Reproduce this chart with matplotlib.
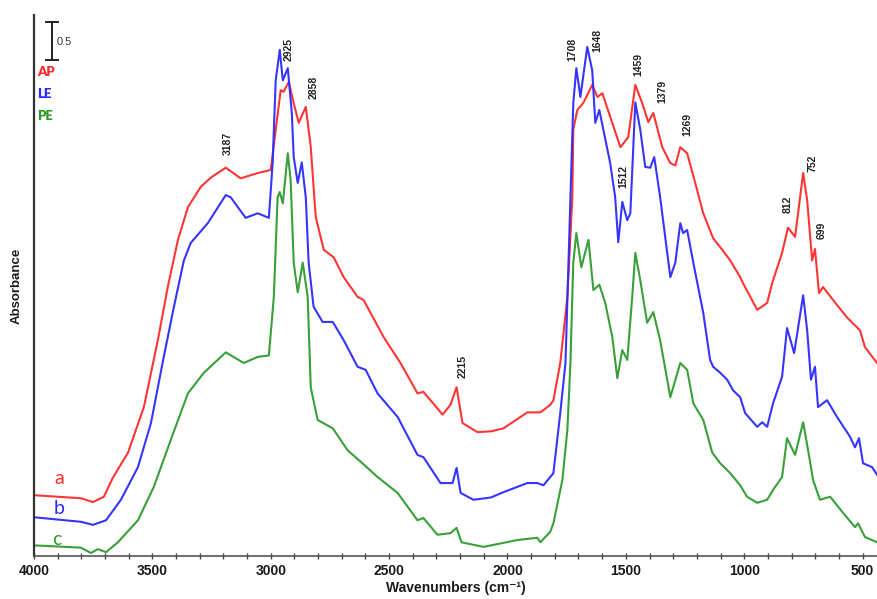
import matplotlib
matplotlib.use("Agg")
import matplotlib.pyplot as plt
from matplotlib.ticker import MultipleLocator

plt.rcParams['font.family'] = ['Liberation Sans', 'DejaVu Sans']

# ---- data (wavenumber cm-1, absorbance offset units) ----
ap_wn = [4000, 3802, 3751, 3705, 3667, 3603, 3536, 3477, 3435, 3392, 3350, 3295, 3253, 3190, 3127, 3055, 3000,
         2979, 2958, 2945, 2924, 2903, 2882, 2852, 2831, 2810, 2776, 2734, 2692, 2633, 2608, 2523, 2452,
         2380, 2355, 2274, 2241, 2215, 2190, 2127, 2070, 2017, 1916, 1861, 1819, 1806, 1777, 1747, 1726, 1722,
         1705, 1680, 1642, 1620, 1599, 1566, 1523, 1490, 1460, 1431, 1405, 1384, 1346, 1312, 1291, 1270,
         1241, 1207, 1173, 1131, 1093, 1059, 1017, 1005, 945, 903, 882, 840, 815, 785, 751, 734, 713, 701,
         684, 667, 625, 566, 511, 490, 439]
ap_abs = [0.80, 0.76, 0.71, 0.78, 1.03, 1.36, 1.96, 2.84, 3.54, 4.16, 4.59, 4.86, 4.98, 5.11, 4.97, 5.04, 5.08,
          5.61, 6.13, 6.11, 6.24, 5.96, 5.70, 5.91, 5.38, 4.46, 4.03, 3.93, 3.67, 3.41, 3.37, 2.88, 2.54,
          2.14, 2.16, 1.86, 1.99, 2.22, 1.75, 1.63, 1.64, 1.68, 1.89, 1.89, 1.99, 2.05, 2.54, 3.41, 4.72, 5.61,
          5.87, 5.96, 6.20, 6.04, 6.09, 5.78, 5.38, 5.51, 6.20, 5.96, 5.71, 5.83, 5.38, 5.17, 5.14, 5.38,
          5.30, 4.91, 4.51, 4.18, 4.03, 3.89, 3.67, 3.59, 3.24, 3.33, 3.59, 3.99, 4.32, 4.20, 5.04, 4.68,
          3.89, 4.04, 3.46, 3.54, 3.37, 3.14, 2.97, 2.75, 2.54]

le_wn = [4000, 3802, 3751, 3696, 3633, 3561, 3506, 3452, 3409, 3367, 3338, 3266, 3190, 3169, 3106, 3055,
         3008, 2992, 2979, 2962, 2949, 2928, 2911, 2903, 2886, 2869, 2852, 2840, 2819, 2781, 2738, 2692,
         2633, 2599, 2549, 2464, 2380, 2355, 2283, 2232, 2215, 2198, 2144, 2070, 2017, 1916, 1874, 1848, 1806,
         1777, 1755, 1734, 1722, 1709, 1692, 1663, 1642, 1629, 1612, 1595, 1566, 1545, 1532, 1515, 1494,
         1481, 1460, 1439, 1418, 1397, 1380, 1355, 1312, 1291, 1270, 1258, 1241, 1215, 1173, 1144, 1131,
         1101, 1072, 1047, 1017, 996, 945, 924, 903, 878, 840, 819, 789, 751, 734, 718, 701, 688, 650,
         608, 553, 532, 515, 498, 460, 439]
le_abs = [0.51, 0.45, 0.41, 0.47, 0.74, 1.17, 1.75, 2.62, 3.28, 3.89, 4.12, 4.38, 4.75, 4.72, 4.45, 4.51,
          4.45, 5.17, 6.26, 6.66, 6.26, 6.42, 5.83, 5.25, 4.91, 5.18, 4.72, 3.86, 3.28, 3.08, 3.08, 2.84,
          2.49, 2.45, 2.14, 1.83, 1.33, 1.30, 0.96, 0.96, 1.16, 0.83, 0.74, 0.77, 0.84, 0.96, 0.96, 0.93, 1.09,
          1.88, 2.54, 4.72, 5.96, 6.42, 6.04, 6.70, 6.39, 5.70, 5.87, 5.61, 5.17, 4.72, 4.13, 4.66, 4.42,
          4.51, 5.97, 5.61, 5.12, 5.11, 5.25, 4.72, 3.67, 3.86, 4.38, 4.25, 4.29, 3.86, 3.20, 2.58, 2.49,
          2.41, 2.32, 2.18, 2.09, 1.88, 1.70, 1.76, 1.70, 2.01, 2.36, 3.00, 2.67, 3.43, 2.97, 2.32, 2.49,
          1.96, 2.05, 1.83, 1.57, 1.43, 1.55, 1.22, 1.17, 1.07]

pe_wn = [4000, 3802, 3760, 3730, 3696, 3646, 3561, 3494, 3422, 3350, 3283, 3190, 3114, 3055, 3008, 2987,
         2971, 2962, 2949, 2928, 2916, 2903, 2886, 2865, 2844, 2831, 2802, 2738, 2675, 2620, 2549, 2464,
         2380, 2355, 2296, 2241, 2215, 2194, 2101, 1958, 1874, 1861, 1819, 1806, 1768, 1747, 1734, 1722,
         1709, 1688, 1658, 1637, 1612, 1587, 1557, 1536, 1515, 1494, 1473, 1460, 1439, 1410, 1384, 1355,
         1312, 1270, 1241, 1215, 1173, 1135, 1101, 1059, 1017, 988, 945, 903, 878, 840, 819, 785, 751,
         730, 709, 680, 637, 583, 532, 519, 490, 439]
pe_abs = [0.14, 0.11, 0.04, 0.09, 0.05, 0.18, 0.47, 0.91, 1.53, 2.14, 2.41, 2.68, 2.54, 2.62, 2.64, 3.41,
          4.72, 4.79, 4.64, 5.30, 4.95, 3.86, 3.47, 3.86, 3.41, 2.22, 1.79, 1.68, 1.39, 1.24, 1.04, 0.83,
          0.47, 0.50, 0.28, 0.30, 0.37, 0.18, 0.12, 0.21, 0.24, 0.18, 0.32, 0.43, 1.00, 1.66, 2.54, 3.86,
          4.25, 3.80, 4.16, 3.50, 3.57, 3.33, 2.88, 2.34, 2.71, 2.58, 3.41, 3.99, 3.63, 3.07, 3.21, 2.84,
          2.09, 2.54, 2.45, 2.01, 1.79, 1.36, 1.22, 1.09, 0.93, 0.78, 0.70, 0.74, 0.87, 1.04, 1.55, 1.33,
          1.76, 1.39, 1.00, 0.74, 0.78, 0.57, 0.38, 0.43, 0.25, 0.18]

peak_labels = ["3187", "2925", "2858", "2215", "1708", "1648", "1459", "1379", "1269", "1512", "812", "752", "699"]
peak_label_x = [3181, 2924, 2819, 2190, 1726, 1620, 1448, 1346, 1241, 1511, 815, 713, 671]
peak_label_y = [5.43, 6.67, 6.17, 2.50, 6.67, 6.78, 6.47, 6.11, 5.68, 4.99, 4.63, 5.17, 4.28]

series_names = ["AP", "LE", "PE"]
curve_letters = ["a", "b", "c"]
colors = ["#FF2A2A", "#2A2AFF", "#2E9A2E"]

# ---- figure ----
fig = plt.figure(figsize=(8.77, 5.99), dpi=100)
ax = fig.add_axes([0.0388, 0.0718, 0.9612, 0.9032])

for wn, ab, c in zip([ap_wn, le_wn, pe_wn], [ap_abs, le_abs, pe_abs], colors):
    ax.plot(wn, ab, color=c, lw=1.5, solid_joinstyle='round', alpha=0.95)

ax.set_xlim(4000, 439)
ax.set_ylim(0, 7.12)
ax.xaxis.set_major_locator(MultipleLocator(500))
ax.xaxis.set_minor_locator(MultipleLocator(100))
ax.tick_params(axis='x', which='both', direction='inout', length=4, width=1, colors='#444444',
               labelcolor='#1a1a1a', labelsize=10, pad=4)
for lab in ax.get_xticklabels():
    lab.set_fontweight('bold')
ax.set_yticks([])
ax.spines['top'].set_visible(False)
ax.spines['right'].set_visible(False)
ax.spines['left'].set_linewidth(1.6)
ax.spines['left'].set_color('#333333')
ax.spines['bottom'].set_linewidth(1.2)
ax.spines['bottom'].set_color('#555555')

ax.set_xlabel("Wavenumbers (cm\u207b\u00b9)", fontsize=10, fontweight='bold', color='#1a1a1a', labelpad=2)
ax.set_ylabel("Absorbance", fontsize=9.5, fontweight='bold', color='#1a1a1a', labelpad=8)

# peak labels
for t, x, y in zip(peak_labels, peak_label_x, peak_label_y):
    ax.text(x, y, t, rotation=90, ha='center', va='center', fontsize=7.5, fontweight='bold', color='#222222')

# scale bar
ax.plot([3924, 3924], [6.53, 7.03], color='#222222', lw=1.4)
ax.plot([3948, 3900], [7.03, 7.03], color='#222222', lw=1.4)
ax.plot([3948, 3900], [6.53, 6.53], color='#222222', lw=1.4)
ax.text(3905, 6.76, "0.5", ha='left', va='center', fontsize=8, color='#333333')

# legend texts
for name, y, c in zip(series_names, [6.37, 6.08, 5.79], colors):
    ax.text(3985, y, name, ha='left', va='center', fontsize=9.5, fontweight='heavy', color=c,
            family=['Lato', 'DejaVu Sans'])

# curve letters
for let, y, x, c in zip(curve_letters, [1.02, 0.62, 0.22], [3893, 3893, 3905], colors):
    ax.text(x, y, let, ha='center', va='center', fontsize=14, color=c, family=['Lato', 'DejaVu Sans'])

fig.savefig("out.png", dpi=100)
